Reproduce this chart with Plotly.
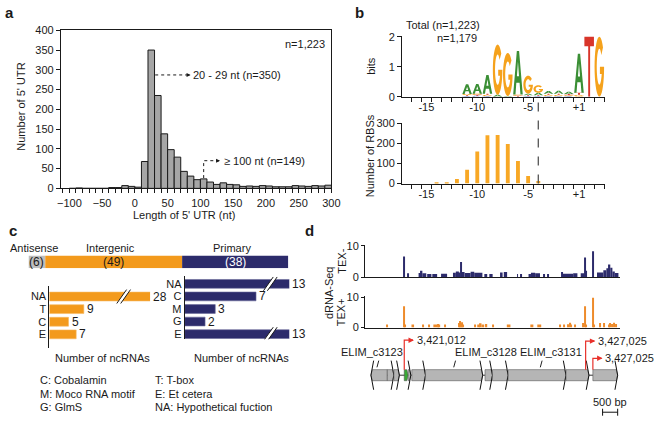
import math
import plotly.graph_objects as go

# ---------------- DATA ----------------
# Panel a: 5' UTR length histogram (bins of 10 nt)
hist_bin_start = list(range(-100, 300, 10))
hist_counts = [0, 1, 0, 0, 0, 0, 2, 2, 7, 5,
               3, 68, 350, 235, 138, 98, 79, 43, 31, 22,
               24, 16, 10, 14, 10, 9, 5, 6, 5, 7,
               6, 4, 4, 4, 7, 6, 5, 7, 6, 8]
a_ticks = [-100, -50, 0, 50, 100, 150, 200, 250, 300]

# Panel b: sequence logo (bits per letter) and RBS position counts
logo_pos = [-11, -10, -9, -8, -7, -6, -5, -4, -3, -2, -1, 1, 2, 3]
logo_A = [0.32, 0.32, 0.62, 0.06, 0.02, 1.45, 0.05, 0.08, 0.09, 0.10, 0.07, 1.30, 0.00, 0.00]
logo_C = [0.02, 0.03, 0.02, 0.00, 0.00, 0.00, 0.02, 0.02, 0.02, 0.02, 0.02, 0.00, 0.00, 0.00]
logo_G = [0.04, 0.04, 0.04, 1.68, 1.44, 0.04, 0.60, 0.25, 0.04, 0.04, 0.03, 0.06, 0.00, 2.00]
logo_T = [0.03, 0.03, 0.04, 0.00, 0.00, 0.03, 0.03, 0.03, 0.04, 0.04, 0.04, 0.07, 2.00, 0.00]
rbs_pos = [-14, -13, -12, -11, -10, -9, -8, -7, -6, -5, -4]
rbs_count = [2, 5, 22, 68, 160, 240, 242, 197, 112, 38, 12]
b_tickvals = [-15, -10, -5, 1]
b_ticktext = ['-15', '-10', '-5', '+1']

# Panel c: ncRNA classes
class_names = ['Antisense', 'Intergenic', 'Primary']
class_counts = [6, 49, 38]
inter_cat = ['NA', 'T', 'C', 'E']
inter_val = [28, 9, 5, 7]
prim_cat = ['NA', 'C', 'M', 'G', 'E']
prim_val = [13, 7, 3, 2, 13]
legend_left = ['C: Cobalamin', 'M: Moco RNA motif', 'G: GlmS']
legend_right = ['T: T-box', 'E: Et cetera', 'NA: Hypothetical fuction']

# Panel d: dRNA-seq coverage (bp offset from region start), genes, TSS
region_start = 3419712
texm_start = [1285, 1420, 1775, 1850, 1900, 2060, 2230, 2520, 2915, 3010, 3110, 3160, 3190, 3305, 3500, 3620,
              3955, 4120, 4500, 4600, 5040, 5170, 5420, 5500, 5640, 5910, 6040, 6500, 6560, 6900, 7150, 7280,
              7310, 7540, 7690, 7900, 8000, 8080, 8130, 8200, 8280]
texm_end = [1320, 1450, 1850, 1900, 2030, 2200, 2390, 2720, 3010, 3110, 3160, 3190, 3300, 3500, 3620, 3890,
            4050, 4230, 4560, 4710, 5070, 5200, 5500, 5640, 5800, 5940, 6070, 6560, 6900, 7040, 7280, 7310,
            7350, 7570, 7900, 8000, 8080, 8130, 8200, 8280, 8400]
texm_val = [6.6, 1.2, 1.3, 2.0, 1.2, 1.0, 1.0, 1.1, 1.4, 1.8, 1.5, 4.8, 1.6, 1.3, 1.7, 1.4,
            1.0, 1.0, 1.5, 1.6, 1.0, 1.0, 1.0, 1.4, 1.2, 1.0, 1.0, 1.6, 1.1, 1.2, 1.2, 6.3,
            2.0, 8.3, 1.5, 2.2, 2.8, 4.0, 3.0, 1.8, 1.3]
texp_start = [715, 1285, 1320, 1540, 1900, 2110, 2265, 2400, 2440, 2630, 3110, 3140, 3170, 3200, 3240, 3630,
              3720, 3800, 3860, 3990, 4215, 4700, 5480, 5710, 6460, 6590, 6720, 6780, 6830, 6960, 7200, 7280,
              7310, 7540, 7570, 7760, 7900, 8080, 8110, 8170, 8240, 8290]
texp_end = [745, 1320, 1350, 1625, 1950, 2140, 2400, 2440, 2490, 2680, 3140, 3170, 3200, 3240, 3270, 3660,
            3800, 3860, 3950, 4050, 4245, 4820, 5580, 5840, 6490, 6620, 6750, 6830, 6860, 6990, 7240, 7310,
            7340, 7570, 7600, 7800, 7930, 8110, 8140, 8220, 8270, 8340]
texp_val = [1.0, 7.1, 1.0, 1.0, 1.0, 1.0, 1.0, 1.2, 1.0, 1.0, 1.5, 2.2, 1.4, 1.8, 1.0, 1.0,
            1.0, 1.4, 1.0, 1.2, 1.0, 1.0, 1.0, 1.0, 1.0, 1.0, 1.1, 1.6, 1.0, 1.0, 1.5, 7.1,
            1.0, 9.9, 1.0, 1.5, 1.5, 1.0, 1.5, 1.2, 1.6, 1.2]
gene_start = [195, 738, 956, 1300, 1430, 1550, 2005, 3978, 4225, 4745, 6663, 7553]
gene_end = [738, 956, 1138, 1430, 1518, 2005, 3900, 4225, 4745, 6663, 7423, 8375]
gene_strand = ['-', '+', '+', '+', '+', '+', '+', '+', '+', '+', '+', '+']
gene_kind = ['cds', 'cds', 'cds', 'ncrna', 'cds', 'cds', 'cds', 'cds', 'cds', 'cds', 'cds', 'cds']
gene_label = ['ELIM_c3123', 'ELIM_c3128', 'ELIM_c3131']
gene_label_x = [240, 4010, 6155]
gene_pointer_x = [435, 2980, 5850]
tss_genomic = [3421012, 3427025, 3427025]
tss_pos = [1300, 7313, 7553]
tss_level = [1.2, 1.17, 0.58]
scale_bp = 500

# ---------------- STYLE / LAYOUT HELPERS ----------------
FW, FH = 660, 422
FONT = 'Liberation Sans, Arial, sans-serif'
TXT = '#1a1a1a'
GRAY = '#A6A6A6'
ORANGE = '#F39A1C'
ORANGE_B = '#F8A825'
ORANGE_D = '#EE8B2B'
NAVY = '#2C2B6B'
LETTER_COL = {'A': '#3B8F35', 'C': '#3554B5', 'G': '#F5A21C', 'T': '#D8352A'}


def px(x):
    return x / FW


def py(y):
    return 1 - y / FH


fig = go.Figure()
shapes = []
ann = []


def text(x, y, s, size=11, xanchor='center', yanchor='middle', xref='paper', yref='paper',
         angle=0, color=TXT, bold=False):
    ann.append(dict(x=x, y=y, text=('<b>%s</b>' % s) if bold else s, xref=xref, yref=yref,
                    xanchor=xanchor, yanchor=yanchor, showarrow=False, textangle=angle,
                    font=dict(size=size, color=color, family=FONT)))


def axis_common(**kw):
    d = dict(showgrid=False, zeroline=False, linecolor='#1a1a1a', linewidth=1, tickcolor='#1a1a1a',
             tickfont=dict(size=11, family=FONT, color=TXT), fixedrange=True)
    d.update(kw)
    return d


# ---------------- PANEL a ----------------
fig.add_trace(go.Bar(x=[b + 5 for b in hist_bin_start], y=hist_counts, width=10,
                     marker=dict(color=GRAY, line=dict(color='#1a1a1a', width=1)),
                     xaxis='x', yaxis='y', showlegend=False, hoverinfo='skip'))
layout_axes = {}
layout_axes['xaxis'] = axis_common(domain=[px(58), px(334)], range=[-113, 300], anchor='y', showline=True,
                                   mirror=True, ticks='outside', ticklen=4, tickvals=a_ticks,
                                   minor=dict(ticks='outside', tick0=0, dtick=10, ticklen=4, tickcolor='#1a1a1a'))
layout_axes['yaxis'] = axis_common(domain=[py(187.7), py(25)], range=[0, 400], anchor='x', showline=True,
                                   mirror=True, ticks='outside', ticklen=4, dtick=50)
text(px(6), py(7), 'a', size=15, bold=True)
text(px(184), py(215), "Length of 5' UTR (nt)")
text(px(17), py(104), "Number of 5' UTR", angle=-90)
text(px(329), py(39), 'n=1,223', xanchor='right')
peak_i = hist_counts.index(max(hist_counts))
peak_lo = hist_bin_start[peak_i]
text(86, 287, '%d - %d nt (n=%d)' % (peak_lo, peak_lo + 9, hist_counts[peak_i]), xanchor='left',
     xref='x', yref='y')
shapes.append(dict(type='line', xref='x', yref='y', x0=peak_lo + 11, x1=83, y0=287, y1=287,
                   line=dict(color='#1a1a1a', width=1, dash='dot')))
ann.append(dict(x=85, y=287, xref='x', yref='y', ax=-5, ay=0, text='', showarrow=True, arrowhead=2,
                arrowsize=0.8, arrowwidth=1, arrowcolor='#1a1a1a'))
i100 = hist_bin_start.index(100)
shapes.append(dict(type='path', xref='x', yref='y',
                   path='M 105,%g L 105,70 L 128,70' % (hist_counts[i100] + 2),
                   line=dict(color='#1a1a1a', width=1, dash='dot')))
ann.append(dict(x=130, y=70, xref='x', yref='y', ax=-5, ay=0, text='', showarrow=True, arrowhead=2,
                arrowsize=0.8, arrowwidth=1, arrowcolor='#1a1a1a'))
text(132.5, 70, '\u2265 100 nt (n=149)', xanchor='left', xref='x', yref='y')

# ---------------- PANEL b ----------------
def idx(p):
    return p if p < 0 else p - 1


def ellipse_arc(cx, cy, rx, ry, a0, a1, n):
    return [(cx + rx * math.cos(math.radians(a0 + (a1 - a0) * k / n)),
             cy + ry * math.sin(math.radians(a0 + (a1 - a0) * k / n))) for k in range(n + 1)]


GLYPHS = {
    'A': [[(0, 0), (0.38, 1), (0.62, 1), (1, 0), (0.76, 0), (0.67, 0.27), (0.33, 0.27), (0.24, 0)],
          [(0.39, 0.42), (0.5, 0.76), (0.61, 0.42)]],
    'T': [[(0, 1), (1, 1), (1, 0.84), (0.6, 0.84), (0.6, 0), (0.4, 0), (0.4, 0.84), (0, 0.84)]],
    'G': [ellipse_arc(0.5, 0.5, 0.5, 0.5, 40, 360, 32) + [(0.56, 0.5), (0.56, 0.38)]
          + ellipse_arc(0.5, 0.5, 0.27, 0.3, 336, 40, 30)],
    'C': [ellipse_arc(0.5, 0.5, 0.5, 0.5, 45, 315, 30) + ellipse_arc(0.5, 0.5, 0.27, 0.3, 315, 45, 30)],
}


def glyph_path(letter, x0, x1, y0, y1):
    segs = []
    for poly in GLYPHS[letter]:
        pts = [(x0 + u * (x1 - x0), y0 + v * (y1 - y0)) for u, v in poly]
        segs.append('M ' + ' L '.join('%.4f,%.4f' % p for p in pts) + ' Z')
    return ' '.join(segs)


for k, p in enumerate(logo_pos):
    stack = sorted([('A', logo_A[k]), ('C', logo_C[k]), ('G', logo_G[k]), ('T', logo_T[k])],
                   key=lambda t: t[1])
    base = 0.0
    for letter, h in stack:
        if h < 0.015:
            continue
        shapes.append(dict(type='path', xref='x2', yref='y2', layer='above',
                           path=glyph_path(letter, idx(p) - 0.47, idx(p) + 0.47, base, base + h),
                           fillcolor=LETTER_COL[letter], line=dict(width=0), fillrule='evenodd'))
        base += h

fig.add_trace(go.Scatter(x=[idx(p) for p in logo_pos], y=[0] * len(logo_pos), mode='markers',
                         marker=dict(opacity=0), xaxis='x2', yaxis='y2', showlegend=False, hoverinfo='skip'))
fig.add_trace(go.Bar(x=[idx(p) for p in rbs_pos], y=rbs_count, width=0.38,
                     marker=dict(color=ORANGE_B, line=dict(width=0)),
                     xaxis='x3', yaxis='y3', showlegend=False, hoverinfo='skip'))
bx = dict(range=[-17.4, 2.55], showline=True, ticks='', tickvals=[idx(v) for v in b_tickvals],
          ticktext=b_ticktext, minor=dict(ticks='outside', tick0=0.5, dtick=1, ticklen=4, tickcolor='#1a1a1a'))
layout_axes['xaxis2'] = axis_common(domain=[px(406), px(613)], anchor='y2', **bx)
layout_axes['yaxis2'] = axis_common(domain=[py(93.3), py(31)], range=[0, 2.02], anchor='x2', showline=True,
                                    ticks='outside', ticklen=4, tickvals=[0, 1, 2])
layout_axes['xaxis3'] = axis_common(domain=[px(406), px(613)], anchor='y3', **bx)
layout_axes['yaxis3'] = axis_common(domain=[py(182.7), py(120.7)], range=[0, 300], anchor='x3', showline=True,
                                    ticks='outside', ticklen=4, tickvals=[0, 100, 200, 300])
text(px(363), py(7), 'b', size=15, bold=True)
text(px(448), py(20), 'Total (n=1,223)')
text(px(462), py(33), 'n=1,179')
text(px(375), py(62), 'bits', angle=-90)
text(px(373), py(154), 'Number of RBSs', angle=-90)
shapes.append(dict(type='line', xref='x3', yref='paper', x0=idx(rbs_pos[-1]), x1=idx(rbs_pos[-1]),
                   y0=py(182.7), y1=py(94), line=dict(color='#555555', width=1.3, dash='dash')))

# ---------------- PANEL c ----------------
class_cols = ['#BDBDBD', ORANGE, NAVY]
class_txt_cols = [TXT, TXT, 'white']
cum = 0
for name, cnt, col, tcol in zip(class_names, class_counts, class_cols, class_txt_cols):
    fig.add_trace(go.Bar(x=[cnt], y=[0], base=cum, orientation='h', width=1,
                         marker=dict(color=col, line=dict(width=0)),
                         xaxis='x4', yaxis='y4', showlegend=False, hoverinfo='skip'))
    mid = cum + cnt / 2
    text(mid, 0, '(%d)' % cnt, xref='x4', yref='y4', color=tcol, size=12)
    text(mid - 1.2, py(249), name, xref='x4', size=11)
    cum += cnt
layout_axes['xaxis4'] = axis_common(domain=[px(25), px(290)], range=[0, sum(class_counts)], anchor='y4',
                                    visible=False)
layout_axes['yaxis4'] = axis_common(domain=[py(270), py(256.7)], range=[-0.5, 0.5], anchor='x4', visible=False)

inter_max = 26.3
prim_max = 10.26
fig.add_trace(go.Bar(x=inter_val, y=list(range(len(inter_cat))), orientation='h', width=0.7,
                     marker=dict(color=ORANGE, line=dict(color='#F6B860', width=0.6)),
                     xaxis='x5', yaxis='y5', showlegend=False, hoverinfo='skip'))
fig.add_trace(go.Bar(x=prim_val, y=list(range(len(prim_cat))), orientation='h', width=0.7,
                     marker=dict(color=NAVY, line=dict(color='#6A6A9A', width=0.6)),
                     xaxis='x6', yaxis='y6', showlegend=False, hoverinfo='skip'))
layout_axes['xaxis5'] = axis_common(domain=[px(46.3), px(149)], range=[0, inter_max], anchor='y5',
                                    showline=False, showticklabels=False, ticks='')
layout_axes['yaxis5'] = axis_common(domain=[py(352), py(288)], range=[len(inter_cat) - 1 + 1.08, -0.85],
                                    anchor='x5', showline=True, ticks='', tickvals=list(range(len(inter_cat))),
                                    ticktext=inter_cat)
layout_axes['xaxis6'] = axis_common(domain=[px(184.3), px(291)], range=[0, prim_max], anchor='y6',
                                    showline=False, showticklabels=False, ticks='')
layout_axes['yaxis6'] = axis_common(domain=[py(343), py(278)], range=[len(prim_cat) - 1 + 0.41, -0.62],
                                    anchor='x6', showline=True, ticks='', tickvals=list(range(len(prim_cat))),
                                    ticktext=prim_cat)
for vals, xr, vmax in ((inter_val, 'x5', inter_max), (prim_val, 'x6', prim_max)):
    yr = 'y' + xr[1:]
    for i, v in enumerate(vals):
        text(min(v, vmax), i, str(v), xref=xr, yref=yr, xanchor='left', size=12)
        ann[-1]['xshift'] = 1


def add_break(xr, xc, i, k):
    yr = 'y' + xr[1:]
    hw = 5.0 / k
    sep = 4.0 / k
    xa, xb = xc - sep / 2, xc + sep / 2
    shapes.append(dict(type='path', xref=xr, yref=yr, layer='above',
                       path='M %f,%f L %f,%f L %f,%f L %f,%f Z' % (xa - hw * 0.75, i + 0.4, xa + hw * 0.75, i - 0.4,
                                                                   xb + hw * 0.75, i - 0.4, xb - hw * 0.75, i + 0.4),
                       fillcolor='white', line=dict(width=0)))
    for xx in (xa, xb):
        shapes.append(dict(type='line', xref=xr, yref=yr, layer='above', x0=xx - hw, y0=i + 0.55,
                           x1=xx + hw, y1=i - 0.55, line=dict(color='#1a1a1a', width=1)))


for i, v in enumerate(inter_val):
    if v > inter_max:
        add_break('x5', 19.4, i, 3.9)
for i, v in enumerate(prim_val):
    if v > prim_max:
        add_break('x6', 8.4, i, 10.4)
text(px(3), py(231), 'c', size=15, bold=True, xanchor='left')
text(px(100), py(362), 'Number of ncRNAs')
text(px(242), py(362), 'Number of ncRNAs')
for j, s in enumerate(legend_left):
    text(px(35), py(385 + 14 * j), s, xanchor='left')
for j, s in enumerate(legend_right):
    text(px(151.7), py(385 + 14 * j), s, xanchor='left')

# ---------------- PANEL d ----------------
for st, en, va, xr, col in ((texm_start, texm_end, texm_val, 'x7', NAVY),
                            (texp_start, texp_end, texp_val, 'x8', ORANGE_D)):
    fig.add_trace(go.Bar(x=[(s + e) / 2 for s, e in zip(st, en)], y=va, width=[e - s for s, e in zip(st, en)],
                         marker=dict(color=col, line=dict(width=0)), xaxis=xr, yaxis='y' + xr[1:],
                         showlegend=False, hoverinfo='skip'))
d_range = [0, 8440]
for ax_i, (y0p, y1p) in ((7, (279, 246)), (8, (331, 299))):
    layout_axes['xaxis%d' % ax_i] = axis_common(domain=[px(368.3), px(628)], range=d_range, anchor='y%d' % ax_i,
                                                showline=True, ticks='', showticklabels=False)
    layout_axes['yaxis%d' % ax_i] = axis_common(domain=[py(y0p), py(y1p)], range=[0, 10.3], anchor='x%d' % ax_i,
                                                showline=True, ticks='outside', ticklen=3, tickvals=[0, 10])
layout_axes['xaxis9'] = axis_common(domain=[px(368.3), px(628)], range=d_range, anchor='y9', visible=False)
layout_axes['yaxis9'] = axis_common(domain=[py(422), py(335)], range=[-1.4, 1.5], anchor='x9', visible=False)
fig.add_trace(go.Scatter(x=[gene_start[0], gene_end[-1]], y=[0, 0], mode='lines',
                         line=dict(color='#333333', width=1),
                         xaxis='x9', yaxis='y9', showlegend=False, hoverinfo='skip'))

text(px(312), py(231), 'd', size=15, bold=True)
text(px(331), py(295), 'dRNA-Seq', angle=-90)
text(px(344), py(263), 'TEX-', angle=-90)
text(px(344), py(315), 'TEX+', angle=-90)

BH = 0.19   # half height of gene box
CH = 0.5    # half height of chevron
TIP = 45
CHV = 90
for s, e, strand, kind in zip(gene_start, gene_end, gene_strand, gene_kind):
    col = '#39A935' if kind == 'ncrna' else '#B5B5B5'
    if strand == '+':
        path = 'M %d,%f L %d,%f L %d,0 L %d,%f L %d,%f Z' % (s, -BH, e - TIP, -BH, e, e - TIP, BH, s, BH)
        chev = 'M %d,%f L %d,0 L %d,%f' % (e - CHV, CH, e, e - CHV, -CH)
    else:
        path = 'M %d,%f L %d,%f L %d,0 L %d,%f L %d,%f Z' % (e, BH, s + TIP, BH, s, s + TIP, -BH, e, -BH)
        chev = 'M %d,%f L %d,0 L %d,%f' % (s + CHV, CH, s, s + CHV, -CH)
    shapes.append(dict(type='path', xref='x9', yref='y9', path=path, fillcolor=col,
                       line=dict(color='#555555', width=0.6)))
    if kind != 'ncrna':
        shapes.append(dict(type='path', xref='x9', yref='y9', path=chev, line=dict(color='#111111', width=1)))
for lbl, lx, gp in zip(gene_label, gene_label_x, gene_pointer_x):
    shapes.append(dict(type='line', xref='x9', yref='y9', x0=gp - 40, y0=0.27, x1=gp + 20, y1=0.5,
                       line=dict(color='#222222', width=1)))
    text(lx, 0.78, lbl, xref='x9', yref='y9', size=11)
RED = '#E8302A'
for g, p, h in zip(tss_genomic, tss_pos, tss_level):
    shapes.append(dict(type='path', xref='x9', yref='y9', path='M %d,%f L %d,%f L %d,%f' % (p, BH, p, h, p + 290, h),
                       line=dict(color=RED, width=1.2)))
    ann.append(dict(x=p + 320, y=h, xref='x9', yref='y9', ax=-6, ay=0, text='', showarrow=True, arrowhead=2,
                    arrowsize=0.9, arrowwidth=1.2, arrowcolor=RED))
    text(p + 350, h, '{:,}'.format(g), xref='x9', yref='y9', xanchor='left', size=11)
sb0 = gene_end[-1] - scale_bp
sb1 = gene_end[-1]
shapes.append(dict(type='path', xref='x9', yref='y9',
                   path='M %d,-1.15 L %d,-1.39 M %d,-1.27 L %d,-1.27 M %d,-1.15 L %d,-1.39'
                        % (sb0, sb0, sb0, sb1, sb1, sb1),
                   line=dict(color='#111111', width=1)))
text((sb0 + sb1) / 2, -0.93, '%d bp' % scale_bp, xref='x9', yref='y9', size=11)

fig.update_layout(width=FW, height=FH, margin=dict(l=0, r=0, t=0, b=0), paper_bgcolor='white',
                  plot_bgcolor='white', barmode='overlay', showlegend=False, shapes=shapes, annotations=ann,
                  font=dict(family=FONT, size=11, color=TXT), **layout_axes)
fig.write_html('out.html', config={'displayModeBar': False},
               post_script="document.body.style.margin='0';")
